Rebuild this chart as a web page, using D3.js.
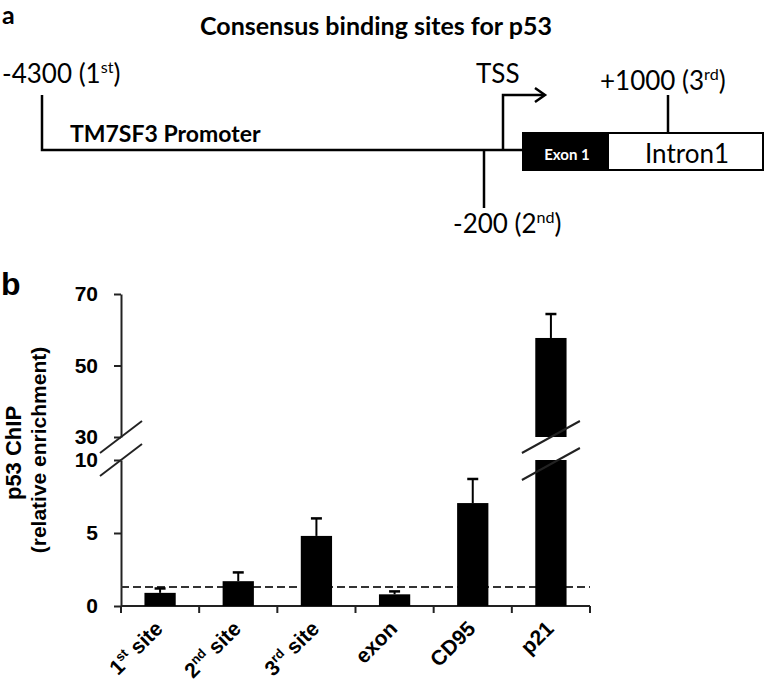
<!DOCTYPE html>
<html lang="en">
<head>
<meta charset="UTF-8" />
<title>Consensus binding sites for p53</title>
<script src="https://d3js.org/d3.v7.min.js"></script>
<style>
  body { margin: 0; background: #fff; }
  .diag text { font-family: Lato, 'Open Sans', sans-serif; fill: #000; }
  .chart text { font-family: 'Liberation Sans', Arial, sans-serif; font-weight: bold; fill: #000; }
</style>
</head>
<body>
<svg width="766" height="682"></svg>
<script>
// panel a : p53 sites on the TM7SF3 promoter (bp relative to TSS)
const sitePos = [-4300, -200, 1000];
const siteMain = ['-4300 (1', '-200 (2', '+1000 (3'];
const siteSup = ['st', 'nd', 'rd'];
const siteUp = [true, false, true];

// panel b : p53 ChIP, relative enrichment
const categories = ['1st site', '2nd site', '3rd site', 'exon', 'CD95', 'p21'];
const enrichment = [0.9, 1.7, 4.8, 0.8, 7.05, 57.7];
const errUp = [0.3, 0.6, 1.2, 0.2, 1.65, 6.7];
const lowTicks = [0, 5, 10];
const highTicks = [30, 50, 70];
const threshold = 1.3;

const svg = d3.select('svg');

// little helper for "1st" style superscripts
function supText(sel, main, sup, tail, fs) {
  sel.append('tspan').text(main);
  if (!sup) return;
  sel.append('tspan').attr('font-size', fs * 0.62).attr('dy', -fs * 0.38).text(sup);
  sel.append('tspan').attr('dy', fs * 0.38).text(tail);
}

// ---------- panel a ----------
const a = svg.append('g').attr('class', 'diag');

a.append('text').attr('x', 2).attr('y', 24).attr('font-size', 25).attr('font-weight', 'bold').text('a');
a.append('text').attr('x', 376).attr('y', 35).attr('text-anchor', 'middle')
  .attr('font-size', 25).attr('font-weight', 'bold').text('Consensus binding sites for p53');

// schematic (not to scale) position scale
const xa = d3.scaleLinear().domain([-4300, -200, 0, 1000]).range([42, 484, 503, 668]);
const lineY = 150, topY = 95, downY = 208;
const box = { x0: 523, x1: 763, exonEnd: 609, y0: 133, y1: 170 };

// promoter line
a.append('path')
  .attr('d', `M${xa(-4300)},${topY}V${lineY}H${box.x0}`)
  .attr('fill', 'none').attr('stroke', '#000').attr('stroke-width', 2.5);

a.append('text').attr('x', 70).attr('y', 142).attr('font-size', 23).attr('font-weight', 'bold')
  .text('TM7SF3 Promoter');

// site ticks
sitePos.forEach((p, i) => {
  if (i === 0) return; // first one is the end of the promoter line
  const y0 = siteUp[i] ? topY : lineY;
  const y1 = siteUp[i] ? box.y0 : downY;
  a.append('line').attr('x1', xa(p)).attr('x2', xa(p)).attr('y1', y0).attr('y2', y1)
    .attr('stroke', '#000').attr('stroke-width', 2.5);
});

const labelShift = [-40, -31, -68];
const labelY = [83, 233, 90];
sitePos.forEach((p, i) => {
  const t = a.append('text').attr('x', xa(p) + labelShift[i]).attr('y', labelY[i]).attr('font-size', 26);
  supText(t, siteMain[i], siteSup[i], ')', 26);
});

// TSS arrow
a.append('path')
  .attr('d', `M${xa(0)},${lineY}V${topY}H${xa(0) + 41}`)
  .attr('fill', 'none').attr('stroke', '#000').attr('stroke-width', 2.5);
a.append('path')
  .attr('d', `M${xa(0) + 32},${topY - 7}L${xa(0) + 42},${topY}L${xa(0) + 32},${topY + 7}`)
  .attr('fill', 'none').attr('stroke', '#000').attr('stroke-width', 2.5);
a.append('text').attr('x', 476).attr('y', 83).attr('font-size', 26).text('TSS');

// exon / intron box
a.append('rect').attr('x', box.x0).attr('y', box.y0).attr('width', box.x1 - box.x0).attr('height', box.y1 - box.y0)
  .attr('fill', '#fff').attr('stroke', '#000').attr('stroke-width', 2);
a.append('rect').attr('x', box.x0).attr('y', box.y0).attr('width', box.exonEnd - box.x0).attr('height', box.y1 - box.y0)
  .attr('fill', '#000');
a.append('text').attr('x', (box.x0 + box.exonEnd) / 2 + 1).attr('y', 160).attr('text-anchor', 'middle')
  .attr('font-size', 15).attr('font-weight', 'bold').style('fill', '#fff').text('Exon 1');
a.append('text').attr('x', (box.exonEnd + box.x1) / 2 + 1).attr('y', 163).attr('text-anchor', 'middle')
  .attr('font-size', 26).text('Intron1');

// ---------- panel b ----------
const b = svg.append('g').attr('class', 'chart');
b.append('text').attr('x', 1).attr('y', 295).attr('font-size', 32).text('b');

const yLow = d3.scaleLinear().domain([0, 10]).range([606, 460]);
const yHigh = d3.scaleLinear().domain([30, 70]).range([437, 294]);
const x = d3.scaleBand().domain(categories).range([121, 590]).paddingInner(0.6).paddingOuter(0.3);
const axisColor = '#222';

function styleAxis(g) {
  g.selectAll('path, line').attr('stroke', axisColor).attr('stroke-width', 2);
  g.selectAll('text').attr('font-size', 21).attr('font-family', "'Liberation Sans', Arial, sans-serif")
    .attr('font-weight', 'bold').attr('fill', '#000');
}

b.append('g').attr('transform', 'translate(121,0)')
  .call(d3.axisLeft(yLow).tickValues(lowTicks).tickSize(7).tickSizeOuter(0).tickPadding(16))
  .call(styleAxis);
b.append('g').attr('transform', 'translate(121,0)')
  .call(d3.axisLeft(yHigh).tickValues(highTicks).tickSize(7).tickSizeOuter(0).tickPadding(16))
  .call(styleAxis);

// break marks
function slash(cx, cy, hw, hh) {
  b.append('line').attr('x1', cx - hw).attr('y1', cy + hh).attr('x2', cx + hw).attr('y2', cy - hh)
    .attr('stroke', axisColor).attr('stroke-width', 2);
}
slash(121, yHigh(30), 21, 16);
slash(121, yLow(10), 21, 16);

// x axis with ticks at category boundaries
const x0 = x.range()[0], x1 = x.range()[1];
b.append('line').attr('x1', x0).attr('x2', x1).attr('y1', yLow(0)).attr('y2', yLow(0))
  .attr('stroke', axisColor).attr('stroke-width', 2);
d3.range(categories.length + 1).forEach(i => {
  const xx = x0 + i * x.step();
  b.append('line').attr('x1', xx).attr('x2', xx).attr('y1', yLow(0)).attr('y2', yLow(0) + 7)
    .attr('stroke', axisColor).attr('stroke-width', 2);
});

// threshold
b.append('line').attr('x1', x0).attr('x2', x1).attr('y1', yLow(threshold)).attr('y2', yLow(threshold))
  .attr('stroke', '#333').attr('stroke-width', 2).attr('stroke-dasharray', '8,4');

// bars
const rows = categories.map((c, i) => ({ c, v: enrichment[i], e: errUp[i] }));
const yOf = v => (v <= 10 ? yLow(v) : yHigh(v));

rows.forEach(d => {
  const bx = x(d.c), bw = x.bandwidth(), cx = bx + bw / 2;
  if (d.v <= 10) {
    b.append('rect').attr('x', bx).attr('y', yLow(d.v)).attr('width', bw).attr('height', yLow(0) - yLow(d.v)).attr('fill', '#000');
  } else {
    b.append('rect').attr('x', bx).attr('y', yLow(10)).attr('width', bw).attr('height', yLow(0) - yLow(10)).attr('fill', '#000');
    b.append('rect').attr('x', bx).attr('y', yHigh(d.v)).attr('width', bw).attr('height', yHigh(30) - yHigh(d.v)).attr('fill', '#000');
    slash(cx, yHigh(30), 29, 16);
    slash(cx, yLow(10) + 4, 29, 16);
  }
  const top = yOf(d.v), errTop = yOf(d.v + d.e);
  b.append('line').attr('x1', cx).attr('x2', cx).attr('y1', top).attr('y2', errTop)
    .attr('stroke', '#000').attr('stroke-width', 2);
  b.append('line').attr('x1', cx - 5.5).attr('x2', cx + 5.5).attr('y1', errTop).attr('y2', errTop)
    .attr('stroke', '#000').attr('stroke-width', 2.5);
});

// rotated category labels
rows.forEach(d => {
  const cx = x(d.c) + x.bandwidth() / 2 + 4;
  const t = b.append('text').attr('text-anchor', 'end').attr('font-size', 21)
    .attr('transform', `translate(${cx},630) rotate(-45)`);
  const m = d.c.match(/^(\d)(st|nd|rd)(.*)$/);
  if (m) supText(t, m[1], m[2], m[3], 21);
  else t.text(d.c);
});

// y title
b.append('text').attr('transform', 'translate(21,453) rotate(-90)').attr('text-anchor', 'middle')
  .attr('font-size', 22).text('p53 ChIP');
b.append('text').attr('transform', 'translate(46,450) rotate(-90)').attr('text-anchor', 'middle')
  .attr('font-size', 21).text('(relative enrichment)');
</script>
</body>
</html>
